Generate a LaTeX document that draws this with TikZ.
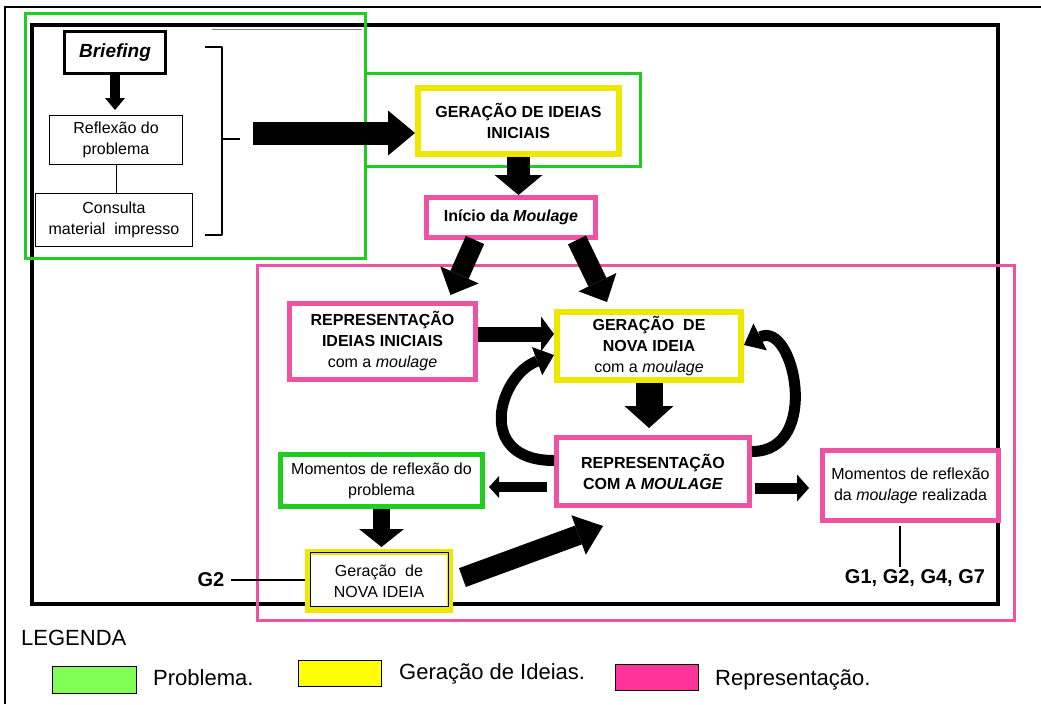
\documentclass[tikz,border=0pt]{standalone}
\usepackage{fontspec}
\setmainfont{Liberation Sans}
\usetikzlibrary{arrows.meta}

\definecolor{probgreen}{RGB}{30,205,30}
\definecolor{ideayellow}{RGB}{238,232,0}
\definecolor{reppink}{RGB}{238,82,160}
\definecolor{leggreen}{RGB}{128,255,85}
\definecolor{legyellow}{RGB}{255,255,0}
\definecolor{legpink}{RGB}{255,51,153}

\tikzset{blockarrow/.style n args = {3}{line width = #1,
        -{Triangle[width = #2, length = #3, line width = 0pt]}}}

\begin{document}
\begin{tikzpicture}[x = 1pt, y = -1pt, % pixel units, y grows downwards
                line join = miter % sharp corners on the frames
            ]

            \tikzstyle{every node}=[font = \fontsize{16}{21}\selectfont, align = center,
            inner sep = 2pt]
            \tikzstyle{plainbox}=[draw = black, fill = white, line width = 1pt]
            \tikzstyle{probbox}=[draw = probgreen, fill = white, line width = 5pt]
            \tikzstyle{ideabox}=[draw = ideayellow, fill = white, line width = 6pt]
            \tikzstyle{repbox}=[draw = reppink, fill = white, line width = 5pt]
            \tikzstyle{legbox}=[draw = black, line width = 1pt, minimum width = 83pt,
            minimum height = 26pt]
            \tikzstyle{legtext}=[font = \fontsize{22}{26}\selectfont, inner sep = 0pt,
            anchor = base west]

            \useasboundingbox (0,0) rectangle (1041,704);

            % frames and regions
            \draw[line width = 1.5pt] (1041,7) -- (5,7) -- (5,704);
            \draw[line width = 3.5pt] (32,25) rectangle (998,604);
            \draw[gray, line width = 1pt] (212,29) -- (362,29);
            \draw[probgreen, line width = 3pt] (25,13) rectangle (365,258);
            \draw[probgreen, line width = 3pt] (365,73) rectangle (640,166);
            \draw[reppink, line width = 3pt] (257,265) rectangle (1014,620);
            \draw[line width = 2.5pt, line join = round] (205,47) -- (222,47) -- (222,235)
            -- (205,235) (222,139) -- (240,139);

            % boxes
            \node[plainbox, line width = 3pt, minimum width = 101pt, minimum height = 42pt,
            font = \fontsize{19}{22}\selectfont\bfseries\itshape] (briefing) at (115,52.5)
            {Briefing};
            \node[plainbox, minimum width = 133pt, minimum height = 49pt] (reflexao) at
            (116,140) {Reflexão do\\problema};
            \node[plainbox, minimum width = 157pt, minimum height = 53pt] (consulta) at
            (114,220) {Consulta\\material\ \ impresso};
            \node[ideabox, minimum width = 201pt, minimum height = 66pt,
            font = \fontsize{16}{21}\selectfont\bfseries] (ideiasini) at (518.5,121)
            {GERAÇÃO DE IDEIAS\\INICIAIS};
            \node[repbox, minimum width = 169pt, minimum height = 40pt,
            font = \fontsize{16}{21}\selectfont\bfseries] (inicio) at (511,217.5)
            {Início da \textit{Moulage}};
            \node[repbox, minimum width = 186pt, minimum height = 76pt] (repini) at
            (382.5,341.5) {\textbf{REPRESENTAÇÃO}\\\textbf{IDEIAS INICIAIS}\\com a
            \textit{moulage}};
            \node[ideabox, minimum width = 184pt, minimum height = 68pt] (novaideia) at
            (649,346) {\textbf{GERAÇÃO\ \ DE}\\\textbf{NOVA IDEIA}\\com a \textit{moulage}};
            \node[repbox, minimum width = 193pt, minimum height = 68pt,
            font = \fontsize{16}{21}\selectfont\bfseries] (repmoul) at (653,471.5)
            {REPRESENTAÇÃO\\COM A \textit{MOULAGE}};
            \node[probbox, minimum width = 202pt, minimum height = 52pt] (momprob) at
            (381.5,480.5) {Momentos de reflexão do\\problema};
            \node[repbox, minimum width = 176pt, minimum height = 70pt] (momreal) at
            (910.5,485.5) {Momentos de reflexão\\da \textit{moulage} realizada};
            \node[ideabox, minimum width = 142pt, minimum height = 58pt] (geranova) at
            (379,581) {Geração\ \ de\\NOVA IDEIA};
            \draw[line width = 1pt] ([shift = {(5,3)}]geranova.north west) rectangle
            ([shift = {(-5,-7)}]geranova.south east);
            \node[font = \fontsize{20}{24}\selectfont\bfseries] (grupos) at (915,578)
            {G1, G2, G4, G7};
            \node[font = \fontsize{20}{24}\selectfont\bfseries] (gdois) at (211,580) {G2};
            \coordinate (bigtail) at (253,133);

            % block arrows
            \draw[blockarrow = {10pt}{20pt}{12pt}, shorten > = 5pt] (briefing.south) --
            (briefing.south |- reflexao.north);
            \draw[blockarrow = {23pt}{45pt}{27pt}] (bigtail) -- (bigtail -| ideiasini.west);
            \draw[blockarrow = {23pt}{48pt}{20pt}] (ideiasini.south) --
            (ideiasini.south |- inicio.north);
            \draw[blockarrow = {20pt}{42pt}{22pt}] ([xshift = -36pt]inicio.south) --
            ([xshift = 68pt, yshift = 6pt]repini.north);
            \draw[blockarrow = {20pt}{42pt}{22pt}] ([xshift = 66pt]inicio.south) --
            ([xshift = -42pt, yshift = 7pt]novaideia.north);
            \draw[blockarrow = {15pt}{35pt}{13pt}] ([yshift = 7.5pt]repini.east) --
            ([yshift = 12pt]novaideia.west);
            \draw[blockarrow = {27pt}{49pt}{22pt}, shorten > = 7pt] (novaideia.south) --
            (novaideia.south |- repmoul.north);
            \draw[blockarrow = {10pt}{22pt}{10pt}, shorten < = 7pt, shorten > = 4pt]
            ([yshift = -15.5pt]repmoul.west) -- ([yshift = -15.5pt]repmoul.west -| momprob.east);
            \draw[blockarrow = {11pt}{27pt}{12pt}, shorten < = 3pt, shorten > = 11pt]
            ([yshift = -16.5pt]repmoul.east) -- ([yshift = -16.5pt]repmoul.east -| momreal.west);
            \draw[blockarrow = {17pt}{45pt}{18pt}, shorten > = 2pt] (momprob.south) --
            (momprob.south |- geranova.north);
            \draw[blockarrow = {20pt}{42pt}{26pt}, shorten < = 10pt] (geranova.east) --
            ([xshift = -50pt, yshift = -18pt]repmoul.south);

            % curved arrows
            \draw[blockarrow = {11pt}{30pt}{18pt}] ([yshift = 11pt]repmoul.west) .. controls
            +(-80,0) and +(-55,20) .. ([yshift = -9pt]novaideia.west);
            \draw[blockarrow = {11pt}{30pt}{18pt}] ([yshift = 20pt]repmoul.east) .. controls
            +(70,0) and +(50,-25) .. ([yshift = 1pt]novaideia.east);

            % plain lines
            \draw[line width = 1pt] (reflexao.south) -- (reflexao.south |- consulta.north);
            \draw[line width = 2pt, shorten < = 3pt] ([xshift = -11pt]momreal.south) --
            ([xshift = -11pt]momreal.south |- grupos.north);
            \draw[line width = 2pt, shorten < = 4pt] (gdois.east) -- (gdois.east -| geranova.west);

            % legend
            \node[legtext] (legenda) at (21,645) {LEGENDA};
            \node[legbox, fill = leggreen, minimum width = 84pt, minimum height = 27pt]
            (legprob) at (94,679.5) {};
            \node[legtext] (txtprob) at (153,685) {Problema.};
            \node[legbox, fill = legyellow] (legidea) at (339.5,673) {};
            \node[legtext] (txtidea) at (399,679) {Geração de Ideias.};
            \node[legbox, fill = legpink] (legrep) at (656.5,677) {};
            \node[legtext] (txtrep) at (715,685) {Representação.};
\end{tikzpicture}
\end{document}
